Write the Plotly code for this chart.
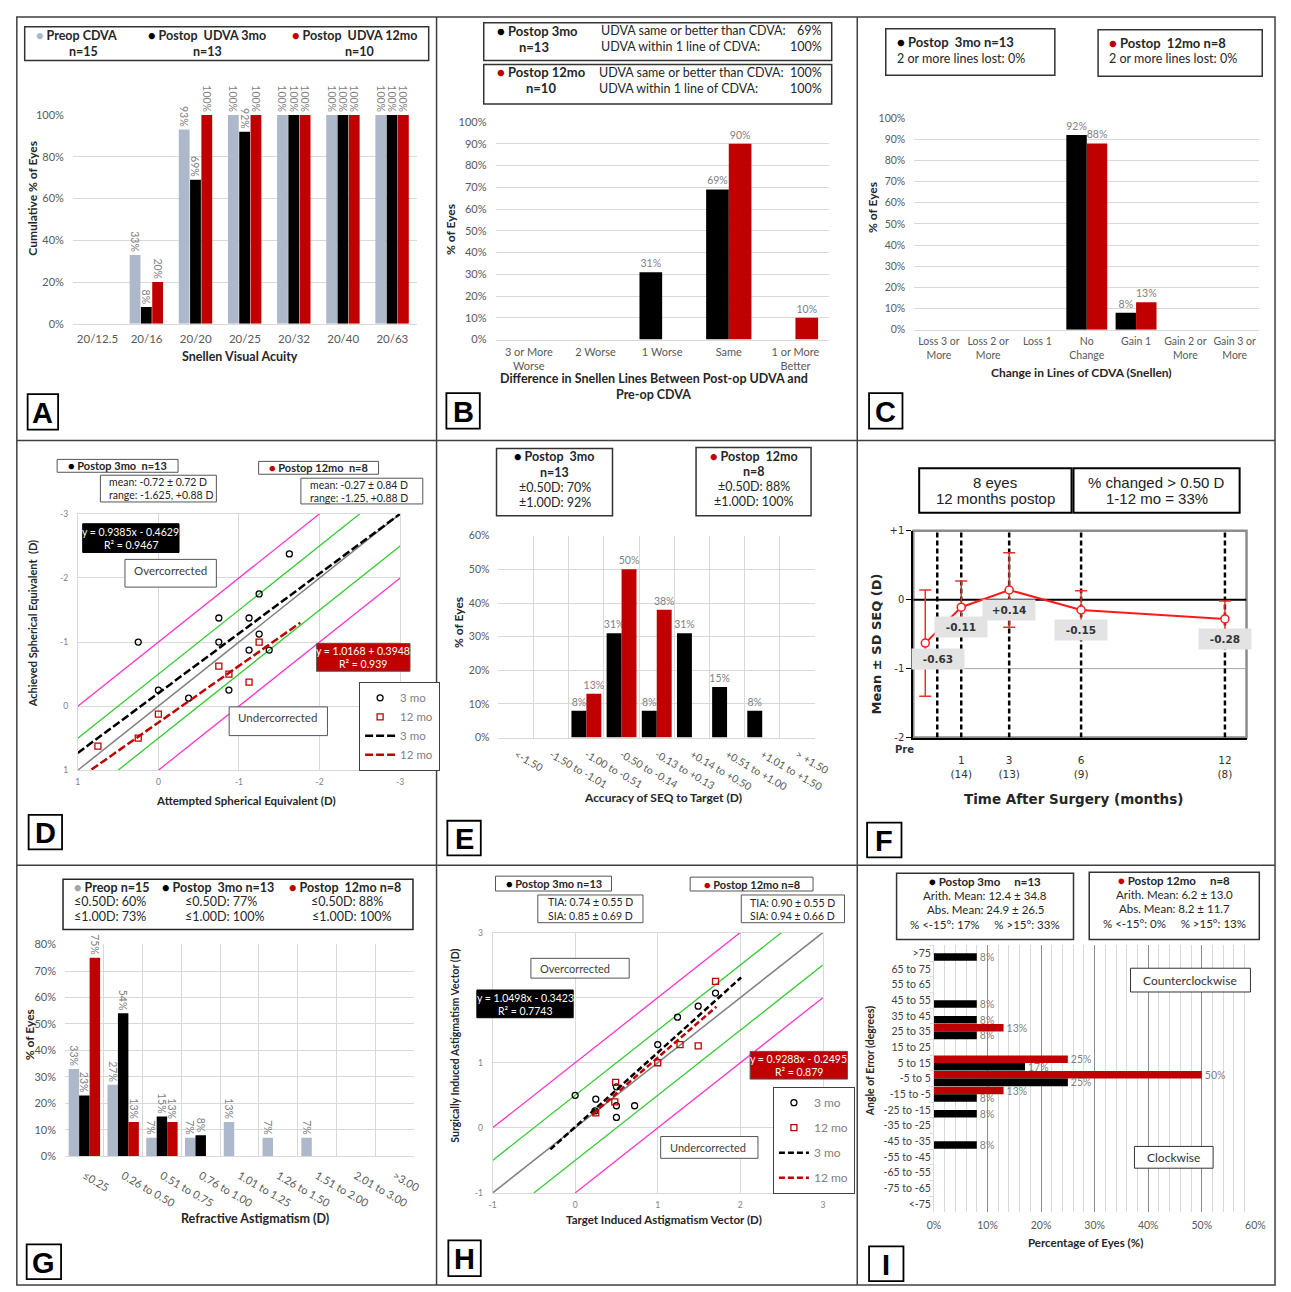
import plotly.graph_objects as go

W, H = 1291, 1292
FONT = "Lato"
VER = "DejaVu Sans"
ARIAL = "Liberation Sans"
GREY_BAR = "#ADB9CA"
RED = "#C00000"
LBL = "#7F7F7F"
TICK = "#595959"
TITLE = "#262626"
GRID = "#D9D9D9"

# ---------------- DATA ----------------
# Panel A: cumulative Snellen visual acuity (%)
a_cats = ["20/12.5", "20/16", "20/20", "20/25", "20/32", "20/40", "20/63"]
a_preop = [0, 33, 93, 100, 100, 100, 100]
a_3mo = [0, 8, 69, 92, 100, 100, 100]
a_12mo = [0, 20, 100, 100, 100, 100, 100]

# Panel B: UDVA vs CDVA lines difference (%)
b_cats = ["3 or More<br>Worse", "2 Worse", "1 Worse", "Same", "1 or More<br>Better"]
b_3mo = [0, 0, 31, 69, 0]
b_12mo = [0, 0, 0, 90, 10]

# Panel C: change in lines of CDVA (%)
c_cats = ["Loss 3 or<br>More", "Loss 2 or<br>More", "Loss 1", "No<br>Change",
          "Gain 1", "Gain 2 or<br>More", "Gain 3 or<br>More"]
c_3mo = [0, 0, 0, 92, 8, 0, 0]
c_12mo = [0, 0, 0, 88, 13, 0, 0]

# Panel D: attempted vs achieved SE (D)
d_3mo_att = [0.25, 0, -0.375, -0.75, -0.75, -0.875, -1.125, -1.125, -1.25, -1.25, -1.375, -1.625]
d_3mo_ach = [-1.0, -0.25, -0.125, -1.375, -1.0, -0.25, -1.375, -0.875, -1.75, -1.125, -0.875, -2.375]
d_12mo_att = [0.75, 0.25, 0, -0.75, -0.875, -1.125, -1.25]
d_12mo_ach = [0.625, 0.5, 0.125, -0.625, -0.5, -0.375, -1.0]
d_trend3_x = [1.0, -3.0]
d_trend3_y = [0.73, -3.0]
d_trend12_x = [0.83, -1.76]
d_trend12_y = [0.99, -1.30]

# Panel E: accuracy of SEQ to target (%)
e_cats = ["<-1.50", "-1.50 to -1.01", "-1.00 to -0.51", "-0.50 to -0.14", "-0.13 to +0.13",
          "+0.14 to +0.50", "+0.51 to +1.00", "+1.01 to +1.50", "> +1.50"]
e_3mo = [0, 0, 8, 31, 8, 31, 15, 8, 0]
e_12mo = [0, 0, 13, 50, 38, 0, 0, 0, 0]

# Panel F: stability of SEQ (mean +/- SD)
f_x = [-0.5, 1, 3, 6, 12]
f_mean = [-0.63, -0.11, 0.14, -0.15, -0.28]
f_sd = [0.77, 0.38, 0.54, 0.28, 0.26]
f_vlines = [0, 1, 3, 6, 12]
f_tickvals = [1, 3, 6, 12]
f_ticktext = ["1<br>(14)", "3<br>(13)", "6<br>(9)", "12<br>(8)"]

# Panel G: refractive astigmatism (%)
g_cats = ["≤0.25", "0.26 to 0.50", "0.51 to 0.75", "0.76 to 1.00", "1.01 to 1.25",
          "1.26 to 1.50", "1.51 to 2.00", "2.01 to 3.00", ">3.00"]
g_preop = [33, 27, 7, 7, 13, 7, 7, 0, 0]
g_3mo = [23, 54, 15, 8, 0, 0, 0, 0, 0]
g_12mo = [75, 13, 13, 0, 0, 0, 0, 0, 0]

# Panel H: TIA vs SIA (D)
h_3mo_x = [0, 0.25, 0.24, 0.5, 0.5, 0.5, 0.72, 1.0, 1.24, 1.49, 1.70]
h_3mo_y = [0.5, 0.44, 0.26, 0.63, 0.34, 0.16, 0.34, 1.28, 1.70, 1.87, 2.07]
h_12mo_x = [0.25, 0.49, 0.48, 1.0, 1.27, 1.49, 1.70]
h_12mo_y = [0.23, 0.70, 0.40, 1.0, 1.28, 1.26, 2.25]
h_trend3_x = [-0.30, 2.01]
h_trend3_y = [-0.33, 2.31]
h_trend12_x = [0.21, 1.71]
h_trend12_y = [0.21, 1.86]

# Panel I: angle of error (%)
i_cats = [">75", "65 to 75", "55 to 65", "45 to 55", "35 to 45", "25 to 35", "15 to 25",
          "5 to 15", "-5 to 5", "-15 to -5", "-25 to -15", "-35 to -25", "-45 to -35",
          "-55 to -45", "-65 to -55", "-75 to -65", "<-75"]
i_3mo = [8, 0, 0, 8, 8, 8, 0, 17, 25, 8, 8, 0, 8, 0, 0, 0, 0]
i_12mo = [0, 0, 0, 0, 0, 13, 0, 25, 50, 13, 0, 0, 0, 0, 0, 0, 0]


# ---------------- HELPERS ----------------
def px(x): return x / W
def py(y): return 1 - y / H
def dx(a, b): return [a / W, b / W]
def dy(t, b): return [1 - b / H, 1 - t / H]

shapes, annotations = [], []
traces = []


def rect(x0, y0, x1, y1, color="#404040", width=1.2, fill="rgba(0,0,0,0)"):
    shapes.append(dict(type="rect", xref="paper", yref="paper", x0=px(x0), x1=px(x1),
                       y0=py(y1), y1=py(y0), line=dict(color=color, width=width),
                       fillcolor=fill, layer="above"))


def hline(x0, x1, y, color="#404040", width=1.5):
    shapes.append(dict(type="line", xref="paper", yref="paper", x0=px(x0), x1=px(x1),
                       y0=py(y), y1=py(y), line=dict(color=color, width=width), layer="above"))


def vline(x, y0, y1, color="#404040", width=1.5):
    shapes.append(dict(type="line", xref="paper", yref="paper", x0=px(x), x1=px(x),
                       y0=py(y0), y1=py(y1), line=dict(color=color, width=width), layer="above"))


def txt(x, y, s, size=12, color=TITLE, family=FONT, anchor="center", angle=0):
    annotations.append(dict(xref="paper", yref="paper", x=px(x), y=py(y), text=s,
                            showarrow=False, xanchor=anchor, yanchor="middle", align=anchor,
                            font=dict(size=size, color=color, family=family),
                            textangle=angle, borderpad=0))


def dot(c):
    return f"<span style='color:{c}'>●</span>"


def an(n, kind):
    return (kind if n == 1 else f"{kind}{n}")


def bars(cats, vals, color, n, width, offset, angle=0, orient="v", tsize=10.5):
    texts = [f"{v}%" if v else "" for v in vals]
    fr = [v / 100 for v in vals]
    kw = dict(x=cats, y=fr) if orient == "v" else dict(y=cats, x=fr, orientation="h")
    traces.append(go.Bar(**kw, marker=dict(color=color, line=dict(width=0)), width=width,
                         offset=offset, text=texts, textposition="outside", textangle=angle,
                         textfont=dict(family=FONT, size=tsize, color=LBL), cliponaxis=False,
                         constraintext="none", showlegend=False, hoverinfo="skip",
                         xaxis=an(n, "x"), yaxis=an(n, "y")))


def line_trace(n, xs, ys, color, width, dash="solid", name=None, legend=None, showlegend=False):
    traces.append(go.Scatter(x=xs, y=ys, mode="lines", line=dict(color=color, width=width, dash=dash),
                             name=name, legend=legend, showlegend=showlegend, hoverinfo="skip",
                             xaxis=an(n, "x"), yaxis=an(n, "y")))


def ref_lines(n, lo, hi):
    for off, col in [(0, "#808080"), (0.5, "#33CC33"), (-0.5, "#33CC33"), (1, "#FF33CC"), (-1, "#FF33CC")]:
        x0, x1 = max(lo, lo - off), min(hi, hi - off)
        line_trace(n, [x0, x1], [x0 + off, x1 + off], col, 1.5 if off == 0 else 1.3)


tickf = lambda size=11, color=TICK, family=FONT: dict(family=family, size=size, color=color)


def cat_x(n, dom, ncat, size=11, angle=0, grid=False, standoff=4):
    return dict(domain=dom, anchor=an(n, "y"), type="category", range=[-0.5, ncat - 0.5],
                showline=True, linecolor=GRID, linewidth=1, ticks="", tickfont=tickf(size),
                tickangle=angle, showgrid=grid, gridcolor=GRID,
                tickson="boundaries" if grid else "labels", zeroline=False, fixedrange=True,
                ticklabelstandoff=standoff)


def pct_y(n, dom, top, dtick, size=11, standoff=8):
    return dict(domain=dom, anchor=an(n, "x"), range=[0, top], dtick=dtick, tick0=0,
                tickformat=".0%", showgrid=True, gridcolor=GRID, zeroline=False, showline=False,
                ticks="", tickfont=tickf(size), ticklabelstandoff=standoff, fixedrange=True)


def sc_axis(n, letter, dom, rng, standoff, tickvals, ticktext):
    return dict(domain=dom, anchor=an(n, "y" if letter == "x" else "x"), range=rng,
                tickvals=tickvals, ticktext=ticktext, showgrid=True, gridcolor=GRID,
                showline=True, mirror=True, linecolor=GRID, zeroline=False, ticks="",
                tickfont=tickf(8.5, "#808080"), ticklabelstandoff=standoff, fixedrange=True)


layout = {}

# ---------------- PANEL A ----------------
bars(a_cats, a_preop, GREY_BAR, 1, 0.22, -0.345, angle=90)
bars(a_cats, a_3mo, "#000000", 1, 0.22, -0.115, angle=90)
bars(a_cats, a_12mo, RED, 1, 0.22, 0.115, angle=90)
layout["xaxis"] = cat_x(1, dx(67, 417), 7, size=11.5, standoff=4)
layout["yaxis"] = pct_y(1, dy(109, 320), 1.0005, 0.2, size=11)
rect(18, 20, 429, 54, "#333333", 1.5)
txt(71, 29, f"<b>{dot(GREY_BAR)} Preop CDVA</b>", 12.5)
txt(78, 45, "<b>n=15</b>", 12.5)
txt(203, 29, f"<b>{dot('#000')} Postop  UDVA 3mo</b>", 12.5)
txt(204, 45, "<b>n=13</b>", 12.5)
txt(354, 29, f"<b>{dot(RED)} Postop  UDVA 12mo</b>", 12.5)
txt(359, 45, "<b>n=10</b>", 12.5)
txt(25, 193, "<b>Cumulative % of Eyes</b>", 12, angle=-90)
txt(237, 353, "<b>Snellen Visual Acuity</b>", 12.5)

# ---------------- PANEL B ----------------
bars(b_cats, b_3mo, "#000000", 2, 0.34, -0.34)
bars(b_cats, b_12mo, RED, 2, 0.34, 0.0)
layout["xaxis2"] = cat_x(2, dx(497, 836), 5, size=11, standoff=2)
layout["yaxis2"] = pct_y(2, dy(116, 336), 1.0005, 0.1, size=11)
rect(485, 16, 839, 54, "#333333", 1.5)
rect(485, 58, 839, 98, "#333333", 1.5)
txt(540, 24, f"<b>{dot('#000')} Postop 3mo</b>", 13)
txt(536, 40, "<b>n=13</b>", 13)
txt(603, 24, "UDVA same or better than CDVA:", 12.5, anchor="left")
txt(603, 40, "UDVA within 1 line of CDVA:", 12.5, anchor="left")
txt(830, 24, "69%", 12.5, anchor="right")
txt(830, 40, "100%", 12.5, anchor="right")
txt(544, 66, f"<b>{dot(RED)} Postop 12mo</b>", 13)
txt(543, 82, "<b>n=10</b>", 13)
txt(601, 66, "UDVA same or better than CDVA:", 12.5, anchor="left")
txt(601, 82, "UDVA within 1 line of CDVA:", 12.5, anchor="left")
txt(830, 66, "100%", 12.5, anchor="right")
txt(830, 82, "100%", 12.5, anchor="right")
txt(451, 225, "<b>% of Eyes</b>", 12, angle=-90)
txt(658, 375, "<b>Difference in Snellen Lines Between Post-op UDVA and</b>", 12.5)
txt(658, 391, "<b>Pre-op CDVA</b>", 12.5)

# ---------------- PANEL C ----------------
bars(c_cats, c_3mo, "#000000", 3, 0.415, -0.415)
bars(c_cats, c_12mo, RED, 3, 0.415, 0.0)
layout["xaxis3"] = cat_x(3, dx(923, 1274), 7, size=10.5, standoff=2)
layout["yaxis3"] = pct_y(3, dy(112, 326), 1.0005, 0.1, size=10.5)
rect(894, 22, 1066, 69, "#333333", 1.5)
rect(1110, 23, 1277, 70, "#333333", 1.5)
txt(904, 35, f"<b>{dot('#000')} Postop  3mo n=13</b>", 13, anchor="left")
txt(904, 52, "2 or more lines lost: 0%", 12.5, anchor="left")
txt(1120, 36, f"<b>{dot(RED)} Postop  12mo n=8</b>", 13, anchor="left")
txt(1120, 52, "2 or more lines lost: 0%", 12.5, anchor="left")
txt(881, 202, "<b>% of Eyes</b>", 12, angle=-90)
txt(1093, 369, "<b>Change in Lines of CDVA (Snellen)</b>", 12)

# ---------------- PANEL D ----------------
ref_lines(4, -3, 1)
traces.append(go.Scatter(x=d_3mo_att, y=d_3mo_ach, mode="markers", name="3 mo", legend="legend",
                         marker=dict(symbol="circle-open", size=6, color="black", line=dict(width=1.3)),
                         xaxis="x4", yaxis="y4", hoverinfo="skip"))
traces.append(go.Scatter(x=d_12mo_att, y=d_12mo_ach, mode="markers", name="12 mo", legend="legend",
                         marker=dict(symbol="square-open", size=6, color=RED, line=dict(width=1.3)),
                         xaxis="x4", yaxis="y4", hoverinfo="skip"))
line_trace(4, d_trend3_x, d_trend3_y, "black", 2.5, "8px,3px", "3 mo", "legend", True)
line_trace(4, d_trend12_x, d_trend12_y, RED, 2.5, "8px,3px", "12 mo", "legend", True)
d_ticks = [1, 0, -1, -2, -3]
d_labels = ["1", "0", "-1", "-2", "-3"]
layout["xaxis4"] = sc_axis(4, "x", dx(72, 400), [1, -3], 4, d_ticks, d_labels)
layout["yaxis4"] = sc_axis(4, "y", dy(512, 771), [1, -3], 7, d_ticks, d_labels)
rect(51, 457, 174, 470, "#555555", 1)
txt(112.5, 463.5, f"<b>{dot('#000')} Postop 3mo  n=13</b>", 11)
rect(95, 473, 213, 500, "#555555", 1)
txt(103, 480, "mean: -0.72 ± 0.72 D", 10.5, anchor="left")
txt(103, 493, "range: -1.625, +0.88 D", 10.5, anchor="left")
rect(256, 459, 378, 472, "#555555", 1)
txt(317, 465.5, f"<b>{dot(RED)} Postop 12mo  n=8</b>", 11)
rect(299, 476, 423, 502, "#555555", 1)
txt(307, 483, "mean: -0.27 ± 0.84 D", 10.5, anchor="left")
txt(307, 496, "range: -1.25, +0.88 D", 10.5, anchor="left")
rect(77, 522, 175, 551, "#000000", 1, fill="#000000")
txt(126, 530, "y = 0.9385x - 0.4629", 10.5, color="white")
txt(126, 543, "R² = 0.9467", 10.5, color="white")
rect(120, 558, 213, 586, "#555555", 1, fill="white")
txt(128, 569, "Overcorrected", 11.5, color="#404040", anchor="left")
rect(315, 643, 410, 671, "#555555", 1, fill=RED)
txt(362.5, 651, "y = 1.0168 + 0.3948", 10.5, color="white")
txt(362.5, 664, "R² = 0.939", 10.5, color="white")
rect(226, 707, 326, 736, "#555555", 1, fill="white")
txt(234, 718, "Undercorrected", 11.5, color="#404040", anchor="left")
txt(26, 623, "<b>Achieved Spherical Equivalent  (D)</b>", 11, angle=-90)
txt(243, 802, "<b>Attempted Spherical Equivalent (D)</b>", 11.5)

# ---------------- PANEL E ----------------
bars(e_cats, e_3mo, "#000000", 5, 0.425, -0.425)
bars(e_cats, e_12mo, RED, 5, 0.425, 0.0)
layout["xaxis5"] = cat_x(5, dx(500, 822), 9, size=10.5, angle=30, grid=True, standoff=6)
layout["yaxis5"] = pct_y(5, dy(534, 738), 0.6003, 0.1, size=10.5)
rect(498, 446, 616, 514, "#333333", 1.5)
for yy, s in zip([454, 470, 485, 501], [f"<b>{dot('#000')} Postop  3mo</b>", "<b>n=13</b>",
                                        "±0.50D: 70%", "±1.00D: 92%"]):
    txt(557, yy, s, 12.5)
rect(701, 445, 818, 514, "#333333", 1.5)
for yy, s in zip([454, 469, 484, 500], [f"<b>{dot(RED)} Postop  12mo</b>", "<b>n=8</b>",
                                        "±0.50D: 88%", "±1.00D: 100%"]):
    txt(760, yy, s, 12.5)
txt(460, 622, "<b>% of Eyes</b>", 12, angle=-90)
txt(667, 799, "<b>Accuracy of SEQ to Target (D)</b>", 12)

# ---------------- PANEL F ----------------
line_trace(6, [-1, 12.9], [-1, -1], "#A6A6A6", 1)
line_trace(6, [-1, 12.9], [0, 0], "black", 2)
for v in f_vlines:
    line_trace(6, [v, v], [-2, 1], "black", 2.5, "5px,3px")
traces.append(go.Scatter(x=f_x, y=f_mean, mode="lines+markers", xaxis="x6", yaxis="y6",
                         line=dict(color="#FF1A1A", width=2),
                         marker=dict(symbol="circle", size=8, color="white",
                                     line=dict(color="#FF1A1A", width=1.5)),
                         error_y=dict(type="data", array=f_sd, color="#E83030", thickness=1.5, width=6),
                         showlegend=False, hoverinfo="skip"))
layout["xaxis6"] = dict(domain=dx(922, 1261), anchor="y6", range=[-1, 12.9], tickvals=f_tickvals,
                        ticktext=f_ticktext, ticks="", showline=True, linecolor="black", linewidth=2,
                        showgrid=False, zeroline=False, tickfont=tickf(10.5, "#333333", VER),
                        ticklabelstandoff=12, fixedrange=True)
layout["yaxis6"] = dict(domain=dy(529, 738), anchor="x6", range=[-2, 1], tickvals=[1, 0, -1, -2],
                        ticktext=["+1", "0", "-1", "-2"], ticks="outside", ticklen=5, tickcolor="black",
                        showline=True, linecolor="black", linewidth=2, showgrid=False, zeroline=False,
                        tickfont=tickf(10, "#333333", VER), fixedrange=True)
shapes.append(dict(type="rect", xref="x6 domain", yref="y6 domain", x0=0, x1=1, y0=0, y1=1,
                   line=dict(color="#8C8C8C", width=2.5), layer="below"))
f_shift = [(13, -16), (0, -20), (0, -20), (0, -20), (0, -20)]
for xv, m, (sx, sy) in zip(f_x, f_mean, f_shift):
    annotations.append(dict(xref="x6", yref="y6", x=xv, y=m, xshift=sx, yshift=sy,
                            text=f"<b>{m:+.2f}</b>", showarrow=False, bgcolor="#E3E3E3",
                            width=46, height=14, borderpad=3,
                            font=dict(family=VER, size=10.5, color="#333333")))
rect(928, 466, 1083, 511, "black", 2)
txt(1005.5, 480, "8 eyes", 15, color="#222222", family=ARIAL)
txt(1005.5, 497, "12 months postop", 15, color="#222222", family=ARIAL)
rect(1085, 466, 1254, 511, "black", 2)
txt(1169.5, 480, "% changed &gt; 0.50 D", 15, color="#222222", family=ARIAL)
txt(1169.5, 497, "1-12 mo = 33%", 15, color="#222222", family=ARIAL)
txt(913, 750, "<b>Pre</b>", 10, color="#333333", family=VER)
txt(1085, 800, "<b>Time After Surgery (months)</b>", 13.5, family=VER)
txt(885, 643, "<b>Mean ± SD SEQ (D)</b>", 13, family=VER, angle=-90)

# ---------------- PANEL G ----------------
bars(g_cats, g_preop, GREY_BAR, 7, 0.27, -0.405, angle=90)
bars(g_cats, g_3mo, "#000000", 7, 0.27, -0.135, angle=90)
bars(g_cats, g_12mo, RED, 7, 0.27, 0.135, angle=90)
layout["xaxis7"] = cat_x(7, dx(59, 414), 9, size=11, angle=30, grid=True, standoff=8)
layout["yaxis7"] = pct_y(7, dy(947, 1161), 0.8003, 0.1, size=11)
rect(57, 881, 413, 932, "#262626", 1.5)
txt(67, 889, f"<b>{dot('#A6A6A6')} Preop n=15</b>", 12.5, anchor="left")
txt(157, 889, f"<b>{dot('#000')} Postop  3mo n=13</b>", 12.5, anchor="left")
txt(286, 889, f"<b>{dot(RED)} Postop  12mo n=8</b>", 12.5, anchor="left")
for xx, s in zip([67, 180, 308], ["≤0.50D: 60%", "≤0.50D: 77%", "≤0.50D: 88%"]):
    txt(xx, 904, s, 12.5, anchor="left")
for xx, s in zip([67, 180, 309], ["≤1.00D: 73%", "≤1.00D: 100%", "≤1.00D: 100%"]):
    txt(xx, 919, s, 12.5, anchor="left")
txt(23, 1038, "<b>% of Eyes</b>", 12, angle=-90)
txt(252, 1224, "<b>Refractive Astigmatism (D)</b>", 12.5)

# ---------------- PANEL H ----------------
ref_lines(8, -1, 3)
traces.append(go.Scatter(x=h_3mo_x, y=h_3mo_y, mode="markers", name="3 mo", legend="legend2",
                         legendgroup="h1",
                         marker=dict(symbol="circle-open", size=6, color="black", line=dict(width=1.3)),
                         xaxis="x8", yaxis="y8", hoverinfo="skip"))
traces.append(go.Scatter(x=h_12mo_x, y=h_12mo_y, mode="markers", name="12 mo", legend="legend2",
                         legendgroup="h2",
                         marker=dict(symbol="square-open", size=6, color=RED, line=dict(width=1.3)),
                         xaxis="x8", yaxis="y8", hoverinfo="skip"))
traces.append(go.Scatter(x=h_trend3_x, y=h_trend3_y, mode="lines", name="3 mo", legend="legend2",
                         legendgroup="h3", line=dict(color="black", width=2.5, dash="6px,3px"),
                         xaxis="x8", yaxis="y8", hoverinfo="skip"))
traces.append(go.Scatter(x=h_trend12_x, y=h_trend12_y, mode="lines", name="12 mo", legend="legend2",
                         legendgroup="h4", line=dict(color=RED, width=2.5, dash="6px,3px"),
                         xaxis="x8", yaxis="y8", hoverinfo="skip"))
h_ticks = [-1, 0, 1, 2, 3]
layout["xaxis8"] = sc_axis(8, "x", dx(494, 830), [-1, 3], 4, h_ticks, ["-1", "0", "1", "2", "3"])
# the "2" label on the y axis is hidden behind the equation box in the original
layout["yaxis8"] = sc_axis(8, "y", dy(935, 1198), [-1, 3], 7, h_ticks, ["-1", "0", "1", "", "3"])
rect(497, 878, 615, 893, "#555555", 1)
txt(556, 885.5, f"<b>{dot('#000')} Postop 3mo n=13</b>", 11)
rect(540, 897, 647, 925, "#555555", 1)
txt(593.5, 904, "TIA: 0.74 ± 0.55 D", 10.5)
txt(593.5, 918, "SIA: 0.85 ± 0.69 D", 10.5)
rect(695, 879, 820, 893, "#555555", 1)
txt(757.5, 886, f"<b>{dot(RED)} Postop 12mo n=8</b>", 11)
rect(747, 897, 852, 925, "#555555", 1)
txt(799.5, 905, "TIA: 0.90 ± 0.55 D", 10.5)
txt(799.5, 918, "SIA: 0.94 ± 0.66 D", 10.5)
rect(533, 961, 633, 981, "#555555", 1, fill="white")
txt(541, 971, "Overcorrected", 11, color="#404040", anchor="left")
rect(478, 993, 576, 1021, "#000000", 1, fill="#000000")
txt(527, 1001, "y = 1.0498x - 0.3423", 10.5, color="white")
txt(527, 1014, "R² = 0.7743", 10.5, color="white")
rect(756, 1055, 855, 1083, "#555555", 1, fill=RED)
txt(805.5, 1063, "y = 0.9288x - 0.2495", 10.5, color="white")
txt(805.5, 1076, "R² = 0.879", 10.5, color="white")
rect(665, 1141, 764, 1163, "#555555", 1, fill="white")
txt(673, 1152, "Undercorrected", 11, color="#404040", anchor="left")
txt(456, 1049, "<b>Surgically Induced Astigmatism Vector (D)</b>", 10.5, angle=-90)
txt(668, 1225, "<b>Target Induced Astigmatism Vector (D)</b>", 11.5)

# ---------------- PANEL I ----------------
bars(i_cats, i_12mo, RED, 9, 0.48, -0.48, orient="h")
bars(i_cats, i_3mo, "#000000", 9, 0.48, 0.0, orient="h")
layout["xaxis9"] = dict(domain=dx(943, 1270), anchor="y9", range=[0, 0.6], dtick=0.1, tick0=0,
                        tickformat=".0%", showgrid=True, gridcolor="#8C8C8C", gridwidth=1.3,
                        minor=dict(dtick=0.02, showgrid=True, gridcolor=GRID, gridwidth=1),
                        zeroline=False, showline=False, ticks="", tickfont=tickf(10.5),
                        ticklabelstandoff=6, fixedrange=True)
layout["yaxis9"] = dict(domain=dy(948, 1217), anchor="x9", type="category", range=[16.5, -0.5],
                        showline=True, linecolor=GRID, ticks="outside", ticklen=4, tickcolor=GRID,
                        tickson="boundaries", showgrid=False, zeroline=False,
                        tickfont=tickf(10.5, "#404040"), fixedrange=True)
rect(905, 875, 1085, 942, "#333333", 1.5)
for yy, s in zip([883, 898, 912, 927], [f"<b>{dot('#000')} Postop 3mo     n=13</b>",
                                        "Arith. Mean: 12.4 ± 34.8", "Abs. Mean: 24.9 ± 26.5",
                                        "% &lt;-15°: 17%     % &gt;15°: 33%"]):
    txt(995, yy, s, 11.5)
rect(1101, 874, 1274, 942, "#333333", 1.5)
for yy, s in zip([882, 897, 911, 926], [f"<b>{dot(RED)} Postop 12mo     n=8</b>",
                                        "Arith. Mean: 6.2 ± 13.0", "Abs. Mean: 8.2 ± 11.7",
                                        "% &lt;-15°: 0%     % &gt;15°: 13%"]):
    txt(1187.5, yy, s, 11.5)
rect(1143, 971, 1265, 995, "#333333", 1, fill="white")
txt(1204, 983, "Counterclockwise", 12, color="#333333")
rect(1147, 1151, 1227, 1173, "#333333", 1, fill="white")
txt(1187, 1162, "Clockwise", 12, color="#333333")
txt(878, 1065, "<b>Angle of Error (degrees)</b>", 10.5, angle=-90)
txt(1097, 1248, "<b>Percentage of Eyes (%)</b>", 11.5)

# ---------------- FRAMES & LETTERS ----------------
rect(10, 10, 1290, 1291, "#404040", 1.5)
vline(437, 10, 1291)
vline(865, 10, 1291)
hline(10, 1290, 438)
hline(10, 1290, 867)
for (x0, y0, x1, y1), L in zip([(21, 391, 52, 427), (447, 390, 481, 426), (877, 390, 911, 426),
                                (22, 816, 56, 851), (448, 822, 482, 857), (875, 824, 910, 859),
                                (20, 1250, 55, 1285), (449, 1246, 482, 1282), (877, 1252, 912, 1287)],
                               "ABCDEFGHI"):
    rect(x0, y0, x1, y1, "black", 1.8, fill="white")
    txt((x0 + x1) / 2, (y0 + y1) / 2 + 1, f"<b>{L}</b>", 29, color="black", family=ARIAL)

legend_common = dict(xanchor="left", yanchor="top", bordercolor="#404040", borderwidth=1.2,
                     bgcolor="white", itemwidth=30, traceorder="grouped")
layout["legend"] = dict(legend_common, x=px(358), y=py(682), tracegroupgap=0,
                        font=dict(family=FONT, size=11.5, color="#7F7F7F"))
layout["legend2"] = dict(legend_common, x=px(779), y=py(1091), tracegroupgap=6,
                         font=dict(family=FONT, size=12, color="#7F7F7F"))

fig = go.Figure(data=traces)
fig.update_layout(width=W, height=H, margin=dict(l=0, r=0, t=0, b=0), paper_bgcolor="white",
                  plot_bgcolor="white", barmode="overlay", showlegend=True,
                  shapes=shapes, annotations=annotations, font=dict(family=FONT), **layout)
fig.write_html("out.html", config={"displayModeBar": False},
               post_script="document.body.style.margin='0';document.body.style.padding='0';"
                           "document.body.style.overflow='hidden';")
